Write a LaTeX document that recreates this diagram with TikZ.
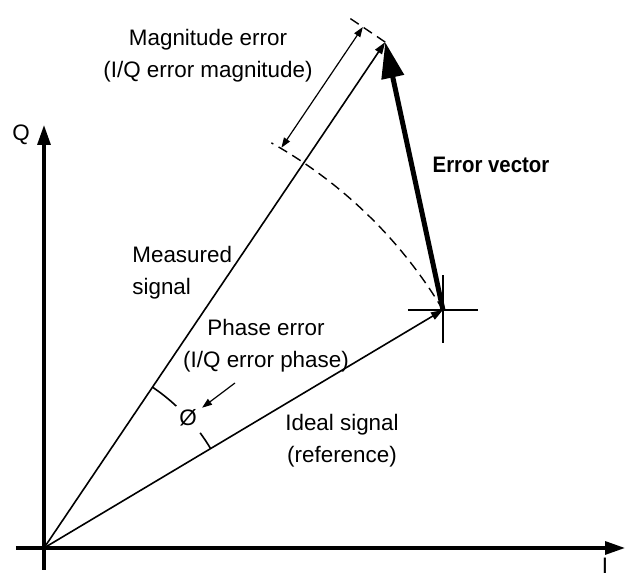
\documentclass[tikz,border=0pt]{standalone}
\usepackage{fontspec}
\setmainfont{Liberation Sans}
\usetikzlibrary{arrows.meta,positioning,calc}
\tikzset{
  tengely/.style={line width=1.6pt,-{Triangle[length=10pt,width=6.5pt]}},
  jel/.style={line width=0.8pt,-{Triangle[length=6pt,width=4pt]}},
  hibavek/.style={line width=2.5pt,-{Triangle[length=18pt,width=11pt]}},
  meret/.style={line width=0.6pt,{Triangle[length=5pt,width=3.5pt]}-{Triangle[length=5pt,width=3.5pt]}},
  nyil/.style={line width=0.6pt,-{Triangle[length=5pt,width=3.5pt]}},
  szagg/.style={line width=0.7pt,dash pattern=on 5pt off 3pt},
  seg/.style={line width=0.8pt},
  felirat/.style={align=center,inner sep=0pt,font=\fontsize{11.2}{16}\selectfont},
}

\begin{document}
\begin{tikzpicture}[x=0.5pt,y=0.5pt]
  \useasboundingbox (-44,-28) rectangle (583,548);
  % pontok
  \coordinate (O) at (0,0);
  \coordinate (R) at (30.82:464.6);
  \coordinate (M) at (56:610.2);
  \coordinate (qa) at (0,-22);
  \coordinate (qf) at (0,423);
  \coordinate (ib) at (-28,0);
  \coordinate (ij) at (581,0);
  % tengelyek
  \draw[tengely] (qa) -- (qf);
  \draw[tengely] (ib) -- (ij);
  \node[felirat] (Q) at (-23,413) {Q};
  \node[felirat] (I) at (561,-18) {I};
  % jelek
  \draw[jel] (O) -- (M);
  \draw[jel] (O) -- (R);
  \draw[seg] ($(R)+(-35,0)$) -- ($(R)+(35,0)$);
  \draw[seg] ($(R)+(0,-33)$) -- ($(R)+(0,35)$);
  \draw[hibavek] (R) -- (M);
  % amplitudo hiba
  \draw[szagg] (R) arc[start angle=30.82,end angle=60.7,radius=464.6];
  \coordinate (Mk) at ($(M)+(146:46)$);
  \draw[szagg] (M) -- (Mk);
  \coordinate (m1) at ($(56:464.6)+(146:27)$);
  \coordinate (m2) at ($(56:610.2)+(146:27)$);
  \draw[meret] (m1) -- (m2);
  % fazis hiba
  \coordinate (f1) at (56:194);
  \coordinate (f2) at (36.4:194);
  \draw[seg] (f1) arc[start angle=56,end angle=47,radius=194];
  \draw[seg] (f2) arc[start angle=36.4,end angle=30.82,radius=194];
  \node[felirat] (phi) at (42:194) {Ø};
  \coordinate (pa) at (191,165);
  \draw[nyil,shorten >=3pt] (pa) -- (phi);
  % feliratok
  \node[felirat] (mag) at (164,492) {Magnitude error\\(I/Q error magnitude)};
  \node[felirat] (ev) at (447,383) {\scalebox{0.91}[1]{\bfseries Error vector}};
  \node[felirat,anchor=west,align=left] (ms) at (88,275) {Measured\\signal};
  \node[felirat] (ph) at (222,202) {Phase error\\(I/Q error phase)};
  \node[felirat] (id) at (298,107) {Ideal signal\\(reference)};
\end{tikzpicture}
\end{document}
